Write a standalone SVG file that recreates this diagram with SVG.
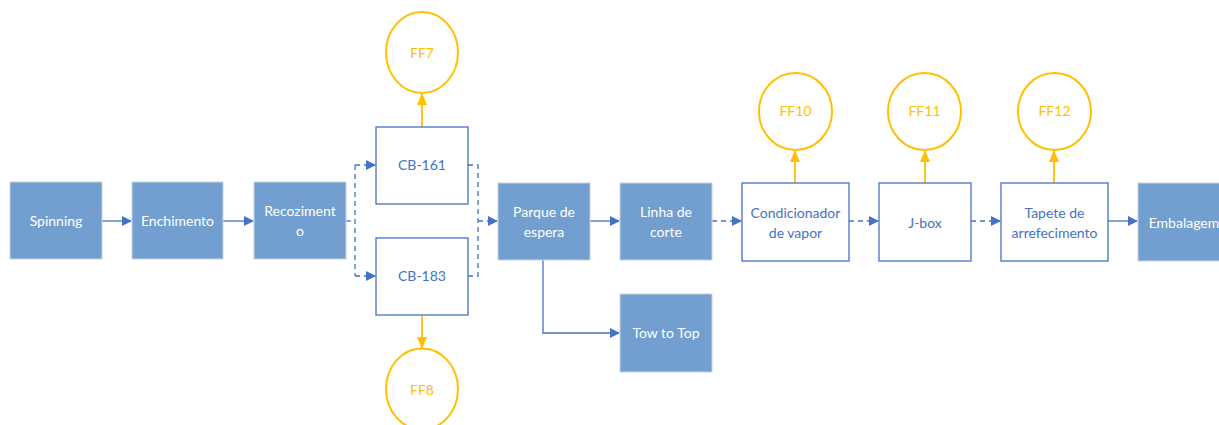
<svg xmlns="http://www.w3.org/2000/svg" width="1219" height="425" viewBox="0 0 1219 425">
<defs>
<style>
.f{fill:#729fcf;stroke:#c9d3df;stroke-width:1}
.o{fill:#fff;stroke:#4472c4;stroke-width:1.3}
.c{fill:#fff;stroke:#ffc000;stroke-width:2}
text{font-family:Lato,"Open Sans",sans-serif;font-size:14px;text-anchor:middle}
.tw{fill:#fff}
.tb{fill:#4472c4}
.ty{fill:#ffc000}
.l{fill:none;stroke:#4472c4;stroke-width:1.3}
.d{stroke-dasharray:5 4}
.y{fill:none;stroke:#ffc000;stroke-width:1.8}
</style>
<marker id="ab" markerWidth="10" markerHeight="10" refX="9" refY="5" orient="auto" markerUnits="userSpaceOnUse"><path d="M0,0 L10,5 L0,10 z" fill="#4472c4"/></marker>
<marker id="ay" markerWidth="10" markerHeight="12" refX="11" refY="5" orient="auto" markerUnits="userSpaceOnUse"><path d="M0,0 L12,5 L0,10 z" fill="#ffc000"/></marker>
</defs>
<g id="connectors">
<path class="l" d="M102,221 H131" marker-end="url(#ab)"/>
<path class="l" d="M223,221 H253" marker-end="url(#ab)"/>
<path class="l d" d="M346,221 H355"/>
<path class="l d" d="M355,165 V276"/>
<path class="l d" d="M355,165 H375" marker-end="url(#ab)"/>
<path class="l d" d="M355,276 H375" marker-end="url(#ab)"/>
<path class="l d" d="M468,165 H478 V276 H468"/>
<path class="l d" d="M478,221 H497" marker-end="url(#ab)"/>
<path class="l" d="M590,221 H619" marker-end="url(#ab)"/>
<path class="l" d="M543,260 V333 H619" marker-end="url(#ab)"/>
<path class="l d" d="M712,221 H741" marker-end="url(#ab)"/>
<path class="l d" d="M849,221 H878" marker-end="url(#ab)"/>
<path class="l d" d="M971,221 H1000" marker-end="url(#ab)"/>
<path class="l" d="M1108,221 H1137" marker-end="url(#ab)"/>
<path class="y" d="M422,127 V94" marker-end="url(#ay)"/>
<path class="y" d="M422,315 V348" marker-end="url(#ay)"/>
<path class="y" d="M795,183 V151" marker-end="url(#ay)"/>
<path class="y" d="M925,183 V151" marker-end="url(#ay)"/>
<path class="y" d="M1054,183 V151" marker-end="url(#ay)"/>
</g>
<g id="spinning"><rect class="f" x="10" y="182" width="92" height="77"/><text class="tw" x="56" y="226">Spinning</text></g>
<g id="enchimento"><rect class="f" x="132" y="182" width="91" height="77"/><text class="tw" x="177.5" y="226">Enchimento</text></g>
<g id="recozimento"><rect class="f" x="254" y="182" width="92" height="77"/><text class="tw" x="300" y="216">Recoziment</text><text class="tw" x="300" y="236">o</text></g>
<g id="cb161"><rect class="o" x="376" y="127" width="92" height="77"/><text class="tb" x="422" y="170">CB-161</text></g>
<g id="cb183"><rect class="o" x="376" y="238" width="92" height="77"/><text class="tb" x="422" y="281">CB-183</text></g>
<g id="ff7"><ellipse class="c" cx="422" cy="52.5" rx="36" ry="40.5"/><text class="ty" x="422" y="58">FF7</text></g>
<g id="ff8"><ellipse class="c" cx="422" cy="389" rx="36" ry="40.5"/><text class="ty" x="422" y="395">FF8</text></g>
<g id="parque"><rect class="f" x="498" y="183" width="92" height="77"/><text class="tw" x="544" y="217">Parque de</text><text class="tw" x="544" y="237">espera</text></g>
<g id="linha"><rect class="f" x="620" y="183" width="92" height="77"/><text class="tw" x="666" y="217">Linha de</text><text class="tw" x="666" y="237">corte</text></g>
<g id="towtotop"><rect class="f" x="620" y="294" width="92" height="78"/><text class="tw" x="666" y="338">Tow to Top</text></g>
<g id="condicionador"><rect class="o" x="742" y="183" width="107" height="78"/><text class="tb" x="795.5" y="218">Condicionador</text><text class="tb" x="795.5" y="238">de vapor</text></g>
<g id="ff10"><ellipse class="c" cx="795.5" cy="111.5" rx="36.5" ry="38.5"/><text class="ty" x="795.5" y="116">FF10</text></g>
<g id="jbox"><rect class="o" x="879" y="183" width="92" height="78"/><text class="tb" x="925" y="228">J-box</text></g>
<g id="ff11"><ellipse class="c" cx="924.5" cy="111.5" rx="36.5" ry="38.5"/><text class="ty" x="924.5" y="116">FF11</text></g>
<g id="tapete"><rect class="o" x="1001" y="183" width="107" height="78"/><text class="tb" x="1054.5" y="218">Tapete de</text><text class="tb" x="1054.5" y="238">arrefecimento</text></g>
<g id="ff12"><ellipse class="c" cx="1054.5" cy="111.5" rx="36.5" ry="38.5"/><text class="ty" x="1054.5" y="116">FF12</text></g>
<g id="embalagem"><rect class="f" x="1138" y="183" width="92" height="78"/><text class="tw" x="1184" y="228">Embalagem</text></g>
</svg>
